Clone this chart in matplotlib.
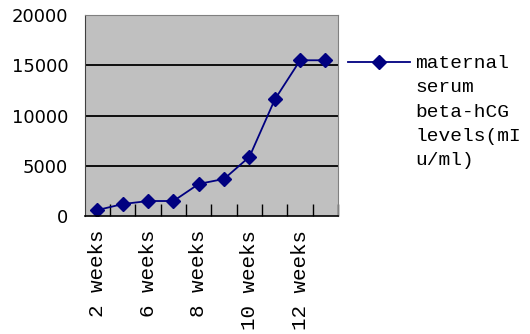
import numpy as np
import matplotlib
matplotlib.use('Agg')
import matplotlib.pyplot as plt

# semanas y niveles de beta-hCG
etiquetas = ["2 weeks", "", "6 weeks", "", "8 weeks", "", "10 weeks", "", "12 weeks", ""]
valores = [600, 1200, 1500, 1500, 3200, 3700, 5900, 11600, 15500, 15500]
serie = "maternal\nserum\nbeta-hCG\nlevels(mI\nu/ml)"

mono = "Liberation Mono"

fig = plt.figure(figsize=(5.30, 3.34), dpi=100)
ax = fig.add_axes([0.160, 0.353, 0.478, 0.602])
ax.set_facecolor("#c0c0c0")

x = np.arange(len(valores))
ax.plot(x, valores, c="#000080", lw=1.3, marker="D", ms=7, label=serie)

ax.set_xlim(-0.5, len(valores) - 0.5)
ax.set_ylim(0, 20000)
ax.set_yticks([0, 5000, 10000, 15000, 20000])
for v in [5000, 10000, 15000]:
    ax.axhline(v, c="black", lw=1.3, zorder=0)

ax.set_xticks(x)
ax.set_xticklabels(etiquetas, rotation=90, family=mono, fontsize=15)
ax.set_xticks(np.arange(len(valores)) + 0.5, minor=True)
ax.tick_params(axis="x", which="major", length=0, pad=10)
ax.tick_params(axis="x", which="minor", direction="in", length=9, width=1)
ax.tick_params(axis="y", length=0, labelsize=13, pad=12)

for s in ["top", "right"]:
    ax.spines[s].set_color("#808080")
ax.spines["left"].set_color("#404040")
ax.spines["bottom"].set_linewidth(1.2)

leg = ax.legend(loc="upper left", bbox_to_anchor=(1.04, 0.80), frameon=False,
                prop={"family": mono, "size": 14}, handlelength=3.2,
                handletextpad=0.25, borderaxespad=0, borderpad=0)
leg.get_texts()[0].set_linespacing(1.55)
# la marca de la leyenda va a la altura de la primera linea
for col in leg._legend_handle_box.get_children():
    for fila in col.get_children():
        fila.align = "top"

plt.savefig("out.png")
